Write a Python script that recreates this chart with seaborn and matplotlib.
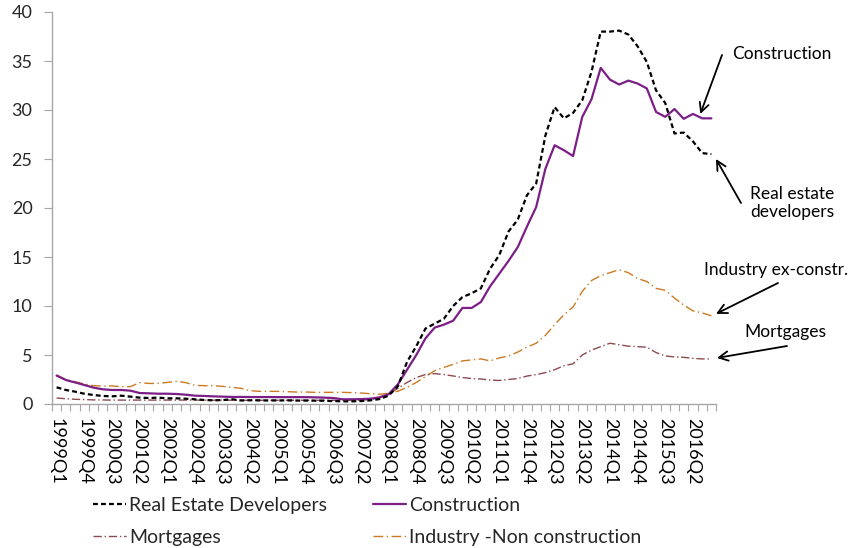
import numpy as np
import pandas as pd
import matplotlib
matplotlib.use("Agg")
import matplotlib.pyplot as plt
import seaborn as sns

# ---------------- data ----------------
years = list(range(1999, 2017))
quarters = [f"{y}Q{q}" for y in years for q in range(1, 5)]  # 1999Q1 .. 2016Q4

real_estate_developers = [
    1.7, 1.43, 1.26, 1.05, 0.92, 0.82, 0.78, 0.85, 0.75, 0.65,
    0.61, 0.65, 0.58, 0.58, 0.54, 0.48, 0.41, 0.37, 0.40, 0.48,
    0.36, 0.38, 0.37, 0.36, 0.36, 0.37, 0.35, 0.35, 0.34, 0.33,
    0.30, 0.27, 0.27, 0.30, 0.37, 0.50, 0.85, 1.8, 4.3, 5.9,
    7.7, 8.2, 8.7, 10.0, 10.9, 11.3, 11.8, 13.8, 15.2, 17.6,
    18.8, 21.3, 22.5, 27.4, 30.3, 29.15, 29.7, 31.0, 33.9, 38.0,
    38.0, 38.1, 37.7, 36.5, 34.9, 32.0, 30.7, 27.6, 27.7, 26.8,
    25.6, 25.5,
]
construction = [
    2.9, 2.45, 2.2, 1.94, 1.67, 1.5, 1.43, 1.43, 1.36, 1.12,
    1.09, 1.05, 1.05, 1.02, 0.95, 0.85, 0.82, 0.78, 0.75, 0.72,
    0.72, 0.71, 0.71, 0.71, 0.70, 0.70, 0.70, 0.70, 0.68, 0.65,
    0.61, 0.48, 0.48, 0.50, 0.54, 0.68, 1.0, 2.0, 3.5, 5.0,
    6.7, 7.8, 8.1, 8.5, 9.8, 9.8, 10.4, 12.0, 13.3, 14.6,
    16.0, 18.1, 20.1, 24.0, 26.4, 25.9, 25.3, 29.3, 31.1, 34.3,
    33.1, 32.6, 33.0, 32.7, 32.2, 29.8, 29.3, 30.1, 29.1, 29.6,
    29.15, 29.15,
]
mortgages = [
    0.61, 0.54, 0.48, 0.45, 0.42, 0.41, 0.40, 0.40, 0.40, 0.40,
    0.40, 0.40, 0.40, 0.40, 0.40, 0.40, 0.39, 0.39, 0.39, 0.39,
    0.38, 0.38, 0.38, 0.38, 0.38, 0.38, 0.38, 0.38, 0.38, 0.38,
    0.38, 0.38, 0.38, 0.40, 0.45, 0.60, 1.0, 1.6, 2.2, 2.7,
    3.0, 3.1, 3.0, 2.86, 2.7, 2.6, 2.55, 2.45, 2.4, 2.5,
    2.6, 2.85, 3.0, 3.2, 3.5, 3.9, 4.1, 5.0, 5.5, 5.85,
    6.2, 6.05, 5.9, 5.85, 5.8, 5.25, 4.9, 4.8, 4.76, 4.66,
    4.6, 4.6,
]
industry_non_construction = [
    2.96, 2.5, 2.27, 2.04, 1.87, 1.84, 1.84, 1.77, 1.77, 2.18,
    2.1, 2.1, 2.2, 2.31, 2.18, 1.9, 1.87, 1.87, 1.8, 1.7,
    1.6, 1.36, 1.29, 1.29, 1.29, 1.26, 1.22, 1.22, 1.19, 1.19,
    1.19, 1.19, 1.16, 1.12, 1.05, 0.99, 1.1, 1.3, 1.7, 2.2,
    2.8, 3.4, 3.74, 4.04, 4.4, 4.5, 4.6, 4.4, 4.7, 4.9,
    5.3, 5.8, 6.2, 7.0, 8.1, 9.1, 9.9, 11.5, 12.6, 13.1,
    13.4, 13.7, 13.4, 12.8, 12.5, 11.8, 11.6, 10.8, 10.1, 9.5,
    9.3, 9.0,
]

series_labels = ["Real Estate Developers", "Construction", "Mortgages",
                 "Industry -Non construction"]
y_ticks = [0, 5, 10, 15, 20, 25, 30, 35, 40]

df = pd.DataFrame({
    "quarter": quarters,
    "pos": np.arange(len(quarters)),
    series_labels[0]: real_estate_developers,
    series_labels[1]: construction,
    series_labels[2]: mortgages,
    series_labels[3]: industry_non_construction,
})

# ---------------- style ----------------
sns.set_style("white")
plt.rcParams["font.family"] = ["Lato", "DejaVu Sans"]
plt.rcParams["font.size"] = 12

W, H = 851, 548
fig = plt.figure(figsize=(W / 100, H / 100), dpi=100)
ax = fig.add_axes([52 / W, 1 - 404 / H, (716 - 52) / W, (404 - 12) / H])

grey = "#a6a6a6"
styles = {
    series_labels[0]: dict(color="black", lw=1.6, dashes=(2.2, 1.4)),
    series_labels[1]: dict(color="#7b1f86", lw=1.6, dashes=None),
    series_labels[2]: dict(color="#8c4a4f", lw=1.0, dashes=(6, 2, 1, 2)),
    series_labels[3]: dict(color="#cc7a22", lw=1.0, dashes=(7, 2.5, 1, 2.5)),
}

handles = {}
draw_order = [series_labels[3], series_labels[2], series_labels[1], series_labels[0]]
for name in draw_order:
    st = styles[name]
    sns.lineplot(data=df, x="pos", y=name, ax=ax, color=st["color"],
                 linewidth=st["lw"], label=name, legend=False)
    line = ax.lines[-1]
    if st["dashes"] is not None:
        line.set_dashes(st["dashes"])
    handles[name] = line

# axes
ax.set_xlim(-0.5, len(quarters) - 0.5)
ax.set_ylim(0, 40)
ax.set_yticks(y_ticks)
ax.set_xlabel("")
ax.set_ylabel("")

label_pos = list(range(0, len(quarters), 3))
ax.set_xticks(label_pos)
ax.set_xticklabels([quarters[i] for i in label_pos], rotation=-90,
                   fontsize=13, color="black")
ax.set_xticks(np.arange(-0.5, len(quarters), 1.0), minor=True)
ax.tick_params(axis="x", which="major", length=0, pad=10)
ax.tick_params(axis="x", which="minor", length=5, width=0.8, color=grey,
               direction="out", bottom=True)
ax.tick_params(axis="y", which="major", length=6, width=0.8, color=grey,
               direction="out", left=True, labelsize=13, pad=8)

for s in ["top", "right"]:
    ax.spines[s].set_visible(False)
for s in ["left", "bottom"]:
    ax.spines[s].set_color(grey)
    ax.spines[s].set_linewidth(1.0)
ax.grid(False)

# legends (two columns placed as in reference)
leg_kw = dict(frameon=False, loc="upper left", fontsize=14, handlelength=1.7,
              handletextpad=0.15, labelspacing=0.78, borderpad=0, borderaxespad=0)
leg1 = fig.legend([handles[series_labels[0]], handles[series_labels[2]]],
                  [series_labels[0], series_labels[2]],
                  bbox_to_anchor=(93 / W, 1 - 497 / H), **leg_kw)
leg2 = fig.legend([handles[series_labels[1]], handles[series_labels[3]]],
                  [series_labels[1], series_labels[3]],
                  bbox_to_anchor=(373 / W, 1 - 497 / H), **leg_kw)

# annotations
def px(x, y):
    return (x / W, 1 - y / H)

ann = [
    ("Construction", (782, 54), (722, 55), (69.8, 29.6)),
    ("Real estate\ndevelopers", (792, 203), (741, 203), (71.5, 25.0)),
    ("Industry ex-constr.", (776, 270), (778, 283), (71.5, 9.2)),
    ("Mortgages", (785, 332), (787, 346), (71.6, 4.7)),
]
for text, tpos, tail, head in ann:
    fig.text(*px(*tpos), text, ha="center", va="center", fontsize=12.5,
             color="black", linespacing=1.15)
    ax.annotate("", xy=head, xycoords="data", xytext=px(*tail),
                textcoords="figure fraction",
                arrowprops=dict(arrowstyle="->,head_length=0.55,head_width=0.28",
                                color="black", lw=1.3, shrinkA=0, shrinkB=0),
                annotation_clip=False)

fig.savefig("out.png", dpi=100)
